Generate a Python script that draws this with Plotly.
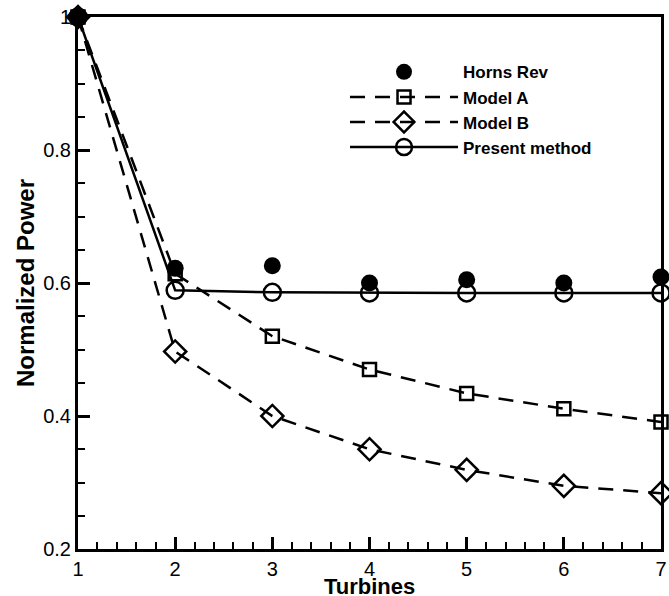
import plotly.graph_objects as go

turbines = [1, 2, 3, 4, 5, 6, 7]
horns_rev = [1.0, 0.622, 0.626, 0.600, 0.605, 0.600, 0.609]
model_a = [1.0, 0.614, 0.520, 0.470, 0.434, 0.411, 0.391]
model_b = [1.0, 0.497, 0.400, 0.350, 0.319, 0.295, 0.284]
present = [1.0, 0.589, 0.586, 0.585, 0.585, 0.585, 0.585]

y_ticks = [0.2, 0.4, 0.6, 0.8, 1.0]
y_ticktext = ["0.2", "0.4", "0.6", "0.8", "1"]
x_ticks = [1, 2, 3, 4, 5, 6, 7]

fig = go.Figure()
fig.add_trace(go.Scatter(
    x=turbines, y=horns_rev, mode="markers", name="Horns Rev",
    marker=dict(symbol="circle", size=17, color="black"),
    cliponaxis=False))
fig.add_trace(go.Scatter(
    x=turbines, y=model_a, mode="lines+markers", name="Model A",
    line=dict(color="black", width=2.5, dash="15px,10px"),
    marker=dict(symbol="square-open", size=13, color="black", line=dict(width=2.5)),
    cliponaxis=False))
fig.add_trace(go.Scatter(
    x=turbines, y=model_b, mode="lines+markers", name="Model B",
    line=dict(color="black", width=2.5, dash="15px,10px"),
    marker=dict(symbol="diamond-open", size=17, color="black", line=dict(width=2.5)),
    cliponaxis=False))
fig.add_trace(go.Scatter(
    x=turbines, y=present, mode="lines+markers", name="Present method",
    line=dict(color="black", width=2.5),
    marker=dict(symbol="circle-open", size=17, color="black", line=dict(width=2.5)),
    cliponaxis=False))

font = "Liberation Sans, Arial, sans-serif"
fig.update_layout(
    width=669, height=596,
    margin=dict(l=78, r=8, t=17, b=47),
    paper_bgcolor="white", plot_bgcolor="white",
    font=dict(family=font, color="black", size=20),
    showlegend=True,
    legend=dict(x=0.458, y=0.93, xanchor="left", yanchor="top",
                bgcolor="rgba(0,0,0,0)", itemwidth=108,
                font=dict(family=font, size=17, color="black", weight="bold"),
                tracegroupgap=0, itemsizing="trace"),
    annotations=[dict(text="<b>Turbines</b>", xref="paper", yref="paper",
                      x=0.5, y=0, xanchor="center", yanchor="top", yshift=-24,
                      borderpad=0, showarrow=False,
                      font=dict(family=font, size=22, color="black"))],
)
fig.update_xaxes(
    range=[1, 7], tickvals=x_ticks, showgrid=False, zeroline=False, automargin=False,
    showline=True, linecolor="black", linewidth=3, mirror=True,
    ticks="inside", ticklen=12, tickwidth=3, tickcolor="black",
    minor=dict(dtick=0.2, ticks="inside", ticklen=7, tickwidth=1.5, tickcolor="black"),
    tickfont=dict(size=20),
)
fig.update_yaxes(
    range=[0.2, 1.0], tickvals=y_ticks, ticktext=y_ticktext, showgrid=False, zeroline=False,
    automargin=False,
    showline=True, linecolor="black", linewidth=3, mirror=True,
    ticks="inside", ticklen=12, tickwidth=3, tickcolor="black",
    minor=dict(dtick=0.05, ticks="inside", ticklen=7, tickwidth=1.5, tickcolor="black"),
    tickfont=dict(size=20),
    title=dict(text="<b>Normalized Power</b>", font=dict(size=24), standoff=2),
)

fig.write_html("out.html", config={"displayModeBar": False},
               post_script="document.body.style.margin='0px';")
